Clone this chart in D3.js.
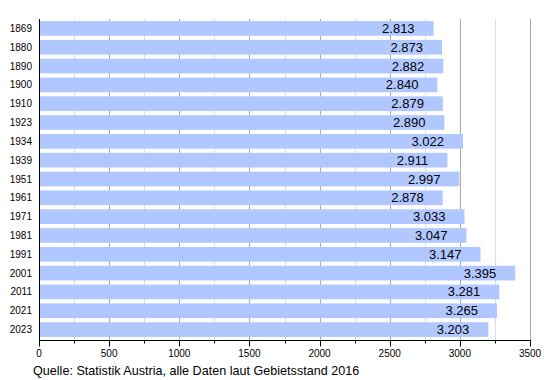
<!DOCTYPE html>
<html>
<head>
<script src="https://d3js.org/d3.v7.min.js"></script>
<style>
  body { margin: 0; background: #fff; }
  text { font-family: "Liberation Sans", Arial, sans-serif; }
</style>
</head>
<body>
<svg width="550" height="380" id="chart"></svg>
<script>
// data
const years = ["1869","1880","1890","1900","1910","1923","1934","1939","1951","1961","1971","1981","1991","2001","2011","2021","2023"];
const population = [2813, 2873, 2882, 2840, 2879, 2890, 3022, 2911, 2997, 2878, 3033, 3047, 3147, 3395, 3281, 3265, 3203];
const valueLabels = ["2.813","2.873","2.882","2.840","2.879","2.890","3.022","2.911","2.997","2.878","3.033","3.047","3.147","3.395","3.281","3.265","3.203"];
const sourceNote = "Quelle: Statistik Austria, alle Daten laut Gebietsstand 2016";

let svg = d3.select("#chart");
let plotLeft = 39, plotRight = 530, plotTop = 19, plotBottom = 340.5;

let x = d3.scaleLinear().domain([0, 3500]).range([plotLeft, plotRight]);
let y = d3.scaleBand().domain(years).range([plotTop, 339]).paddingInner(0.22).paddingOuter(0.11);

// grid lines
let minor = d3.range(250, 3501, 500);
let major = d3.range(500, 3501, 500);
svg.append("g").selectAll("line").data(minor).join("line")
    .attr("x1", d => Math.round(x(d)) + 0.5).attr("x2", d => Math.round(x(d)) + 0.5)
    .attr("y1", plotTop).attr("y2", plotBottom)
    .attr("stroke", "#dddddd");
svg.append("g").selectAll("line").data(major).join("line")
    .attr("x1", d => Math.round(x(d)) + 0.5).attr("x2", d => Math.round(x(d)) + 0.5)
    .attr("y1", plotTop).attr("y2", plotBottom)
    .attr("stroke", "#aaaaaa");

// bars
svg.append("g").selectAll("rect").data(population).join("rect")
    .attr("x", plotLeft)
    .attr("y", (d, i) => y(years[i]))
    .attr("width", d => x(d) - plotLeft)
    .attr("height", y.bandwidth())
    .attr("fill", "#b0c8ff");

// value labels
svg.append("g").selectAll("text").data(population).join("text")
    .attr("x", d => x(d) - 19)
    .attr("y", (d, i) => y(years[i]) + y.bandwidth() / 2 + 4.5)
    .attr("text-anchor", "end")
    .attr("font-size", 13)
    .attr("fill", "#000")
    .text((d, i) => valueLabels[i]);

// y labels
svg.append("g").selectAll("text").data(years).join("text")
    .attr("x", 32)
    .attr("y", d => y(d) + y.bandwidth() / 2 + 3.5)
    .attr("text-anchor", "end")
    .attr("font-size", 10)
    .text(d => d);

// axes lines
svg.append("line").attr("x1", plotLeft + 0.5).attr("x2", plotLeft + 0.5).attr("y1", plotTop).attr("y2", plotBottom)
    .attr("stroke", "#000");
svg.append("line").attr("x1", plotLeft).attr("x2", plotRight + 1).attr("y1", plotBottom).attr("y2", plotBottom)
    .attr("stroke", "#000");

// ticks
svg.append("g").selectAll("line").data(d3.range(0, 3501, 500)).join("line")
    .attr("x1", d => Math.round(x(d)) + 0.5).attr("x2", d => Math.round(x(d)) + 0.5)
    .attr("y1", plotBottom).attr("y2", plotBottom + 6)
    .attr("stroke", "#000");
svg.append("g").selectAll("line").data(minor).join("line")
    .attr("x1", d => Math.round(x(d)) + 0.5).attr("x2", d => Math.round(x(d)) + 0.5)
    .attr("y1", plotBottom).attr("y2", plotBottom + 3)
    .attr("stroke", "#000");
svg.append("g").selectAll("text").data(d3.range(0, 3501, 500)).join("text")
    .attr("x", d => x(d))
    .attr("y", 357)
    .attr("text-anchor", "middle")
    .attr("font-size", 10)
    .text(d => d);

// source
svg.append("text")
    .attr("x", 33).attr("y", 375)
    .attr("font-size", 12.6)
    .text(sourceNote);
</script>
</body>
</html>
